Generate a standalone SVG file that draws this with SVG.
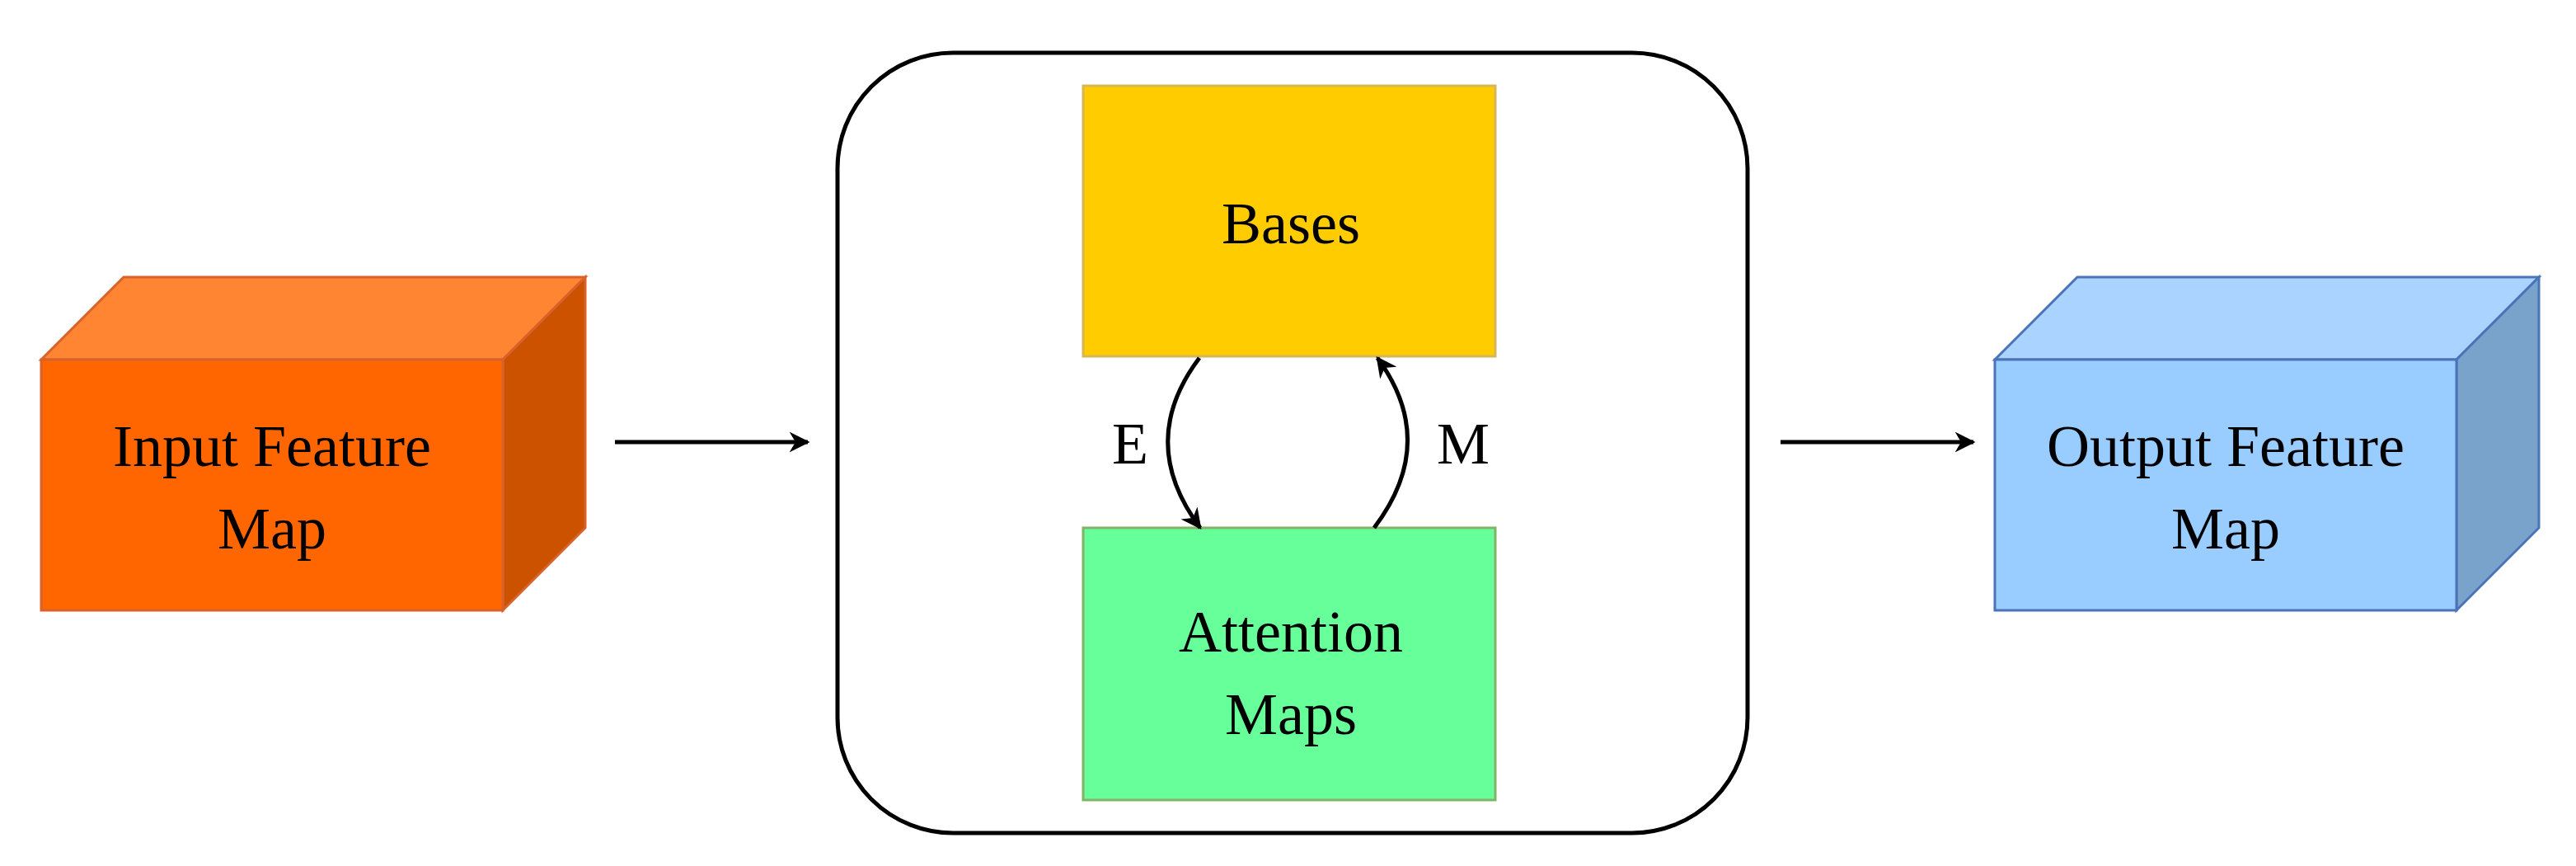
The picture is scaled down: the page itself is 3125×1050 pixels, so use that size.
<svg xmlns="http://www.w3.org/2000/svg" width="3125" height="1050" viewBox="0 0 3125 1050">
<style>
text{font-family:"Liberation Serif","Times New Roman",serif;font-size:72px;fill:#000;text-anchor:middle}
.ln{fill:none;stroke:#000;stroke-width:5}
</style>
<defs><marker id="ah" viewBox="0 0 10 10" refX="9" refY="5" markerWidth="5" markerHeight="5" orient="auto"><path d="M0,0L10,5L0,10L3,5z" fill="#000"/></marker></defs>
<rect width="3125" height="1050" fill="#fff"/>
<g id="input">
<path d="M50,436L150,336L710,336L610,436z" fill="#FF8533" stroke="#D9622B" stroke-width="3"/>
<path d="M610,436L710,336L710,640L610,740z" fill="#CC5200" stroke="#D9622B" stroke-width="3"/>
<rect x="50" y="436" width="560" height="304" fill="#FF6600" stroke="#D9622B" stroke-width="3"/>
<text x="330" y="565">Input Feature</text><text x="330" y="665">Map</text>
</g>
<g id="container"><rect x="1016" y="64" width="1104" height="946" rx="140" fill="#fff" stroke="#000" stroke-width="5"/></g>
<g id="bases"><rect x="1314" y="104" width="500" height="328" fill="#FFCC00" stroke="#D6B656" stroke-width="3"/><text x="1566" y="295">Bases</text></g>
<g id="attention"><rect x="1314" y="640" width="500" height="330" fill="#66FF99" stroke="#82B366" stroke-width="3"/><text x="1566" y="790">Attention</text><text x="1566" y="890">Maps</text></g>
<g id="output">
<path d="M2420,436L2520,336L3080,336L2980,436z" fill="#AAD4FF" stroke="#4A74B8" stroke-width="3"/>
<path d="M2980,436L3080,336L3080,640L2980,740z" fill="#7AA3CC" stroke="#4A74B8" stroke-width="3"/>
<rect x="2420" y="436" width="560" height="304" fill="#99CCFF" stroke="#4A74B8" stroke-width="3"/>
<text x="2700" y="565">Output Feature</text><text x="2700" y="665">Map</text>
</g>
<g id="connectors">
<path class="ln" d="M746,536L980,536" marker-end="url(#ah)"/>
<path class="ln" d="M2160,536L2394,536" marker-end="url(#ah)"/>
<path class="ln" d="M1455,434Q1378,536 1456,640" marker-end="url(#ah)"/>
<path class="ln" d="M1667,640Q1746,536 1671,434" marker-end="url(#ah)"/>
<text x="1371" y="562">E</text><text x="1775" y="562">M</text>
</g>
</svg>
